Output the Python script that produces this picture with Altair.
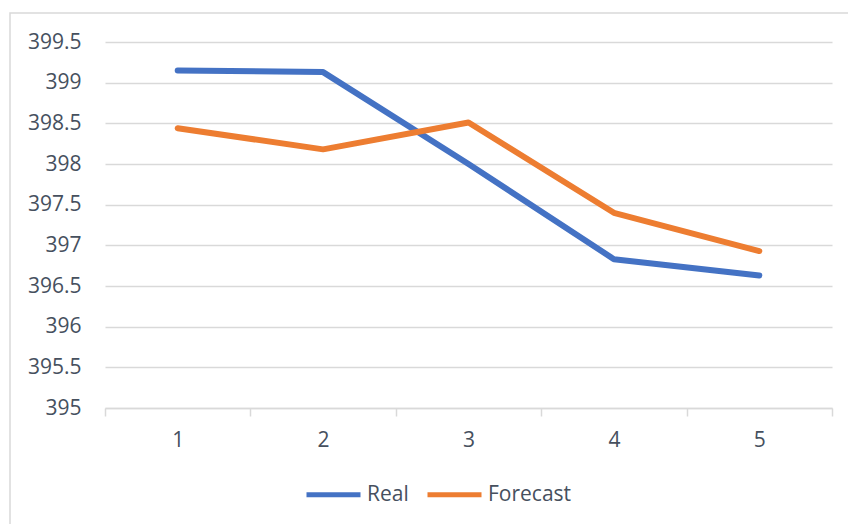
import altair as alt
import pandas as pd

periods = [1, 2, 3, 4, 5]
real = [399.15, 399.13, 398.0, 396.83, 396.63]
forecast = [398.44, 398.18, 398.51, 397.40, 396.93]
series_names = ["Real", "Forecast"]
colors = ["#4472C4", "#ED7D31"]
y_ticks = [395, 395.5, 396, 396.5, 397, 397.5, 398, 398.5, 399, 399.5]

rows = []
for p, r, f in zip(periods, real, forecast):
    rows.append({"period": p, "series": "Real", "value": r})
    rows.append({"period": p, "series": "Forecast", "value": f})
df = pd.DataFrame(rows)

FONT = "Open Sans"
TXT = "#46505E"
GRID = "#D9D9D9"
FS = 21

border = alt.Chart(pd.DataFrame({"a": [0]})).mark_rect(
    fill=None, stroke=GRID, strokeWidth=1.5
).encode(
    x=alt.value(-95), x2=alt.value(760),
    y=alt.value(-29), y2=alt.value(520)
)

lines = alt.Chart(df).mark_line(strokeWidth=6, strokeCap="round", strokeJoin="round").encode(
    x=alt.X("period:O", bandPosition=0.5,
            scale=alt.Scale(type="band", paddingInner=0, paddingOuter=0),
            axis=alt.Axis(title=None, labelAngle=0, tickBand="extent", tickSize=8,
                          tickColor=GRID, tickWidth=1.5, domainColor=GRID, domainWidth=1.5,
                          grid=False, labelPadding=13, labelFontSize=FS, labelFont=FONT,
                          labelColor=TXT)),
    y=alt.Y("value:Q", scale=alt.Scale(domain=[395, 399.5], nice=False, zero=False),
            axis=alt.Axis(title=None, values=y_ticks, ticks=False, domain=False,
                          gridColor=GRID, gridWidth=1.5, labelPadding=24,
                          labelFontSize=FS, labelFont=FONT, labelColor=TXT,
                          format="~f")),
    color=alt.Color("series:N", sort=series_names,
                    scale=alt.Scale(domain=series_names, range=colors),
                    legend=alt.Legend(title=None, orient="none", direction="horizontal",
                                      legendX=199, legendY=423,
                                      symbolType="stroke", symbolSize=2916,
                                      symbolStrokeWidth=5, labelFontSize=FS,
                                      labelFont=FONT, labelColor=TXT, labelOffset=4,
                                      columnPadding=8, padding=0)),
    order=alt.Order("period:O")
)

chart = alt.layer(border, lines).properties(
    width=727, height=366,
    padding={"left": 105, "top": 42, "right": 16, "bottom": 116},
    autosize=alt.AutoSizeParams(type="none"),
    background="white"
).configure_view(stroke=None)

chart.save("out.html", embed_options={"renderer": "svg", "actions": False})
